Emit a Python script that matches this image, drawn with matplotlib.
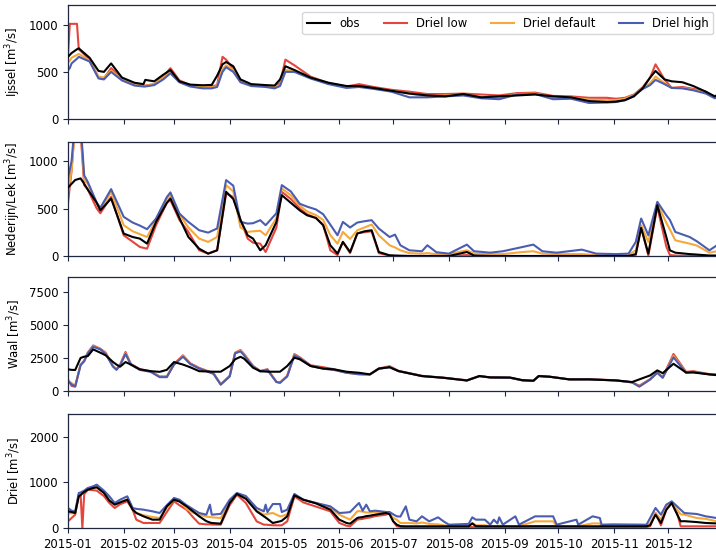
import numpy as np
import matplotlib
matplotlib.use("Agg")
import matplotlib.pyplot as plt

# ---------------- data (day offset from 2015-01-01) ----------------
ij_days = [0, 1, 2, 5, 6, 12, 17, 20, 24, 30, 37, 42, 43, 48, 53, 57, 62, 68, 75, 80, 83, 86, 88, 92, 96, 102,
           110, 115, 118, 121, 126, 135, 145, 155, 162, 170, 180, 190, 200, 210, 220, 230, 240, 250, 260,
           270, 280, 290, 300, 305, 310, 315, 320, 324, 327, 332, 336, 342, 348, 355, 360, 364]
ij_obs = [660, 680, 700, 740, 750, 650, 510, 500, 590, 440, 385, 370, 415, 400, 470, 520, 400, 365, 358, 362, 460, 580,
          605, 560, 420, 370, 360, 355, 420, 560, 520, 440, 385, 350, 350, 330, 300, 270, 250, 240, 265, 230,
          240, 250, 260, 240, 230, 190, 180, 185, 200, 240, 330, 440, 510, 420, 400, 390, 350, 290, 240, 290]
ij_low = [680, 1010, 1010, 1010, 740, 630, 440, 430, 540, 430, 370, 355, 355, 370, 450, 540, 410, 360, 350, 345, 360, 660,
          630, 530, 400, 360, 350, 345, 380, 630, 570, 450, 380, 345, 370, 340, 310, 290, 265, 265, 270, 260,
          250, 275, 280, 245, 240, 225, 225, 215, 225, 260, 340, 440, 580, 420, 330, 340, 320, 290, 230, 290]
ij_def = [600, 620, 650, 680, 690, 620, 450, 440, 515, 420, 365, 350, 350, 370, 440, 500, 400, 355, 340, 335, 350, 530,
          570, 520, 400, 355, 350, 340, 360, 520, 510, 440, 380, 340, 345, 325, 300, 270, 240, 250, 255, 240,
          225, 265, 270, 230, 230, 205, 200, 200, 215, 255, 330, 380, 450, 380, 330, 330, 310, 280, 230, 285]
ij_high = [520, 540, 590, 640, 660, 610, 430, 420, 500, 410, 355, 345, 345, 360, 420, 485, 390, 345, 325, 325, 340, 500,
           550, 500, 390, 350, 340, 325, 350, 500, 500, 430, 370, 330, 340, 320, 290, 230, 230, 240, 250, 220,
           210, 260, 265, 210, 215, 170, 175, 180, 200, 250, 320, 360, 415, 370, 330, 325, 305, 270, 220, 280]

nl_days = [0, 2, 4, 7, 9, 11, 16, 18, 24, 31, 36, 40, 44, 49, 55, 57, 62, 67, 73, 78, 83, 88, 92, 96, 100,
           103, 107, 110, 116, 119, 124, 129, 133, 138, 142, 146, 150, 153, 157, 161, 165, 169, 173, 179,
           182, 185, 190, 197, 200, 205, 212, 222, 226, 235, 242, 253, 259, 264, 272, 286, 294, 305, 312,
           316, 319, 323, 328, 333, 335, 338, 346, 350, 357, 361, 364]
nl_obs = [720, 760, 800, 817, 760, 700, 560, 480, 605, 236, 200, 183, 130, 359, 560, 605, 400, 200, 77, 25, 60,
          676, 600, 380, 218, 183, 60, 113, 359, 640, 560, 480, 429, 400, 324, 113, 25, 148, 42, 236, 260, 271,
          42, 7, 5, 3, 0, 0, 0, 0, 0, 42, 5, 0, 0, 0, 0, 0, 0, 0, 0, 0, 0, 20, 296, 25, 535, 200, 60, 35, 20,
          15, 5, 5, 5]
nl_low = [560, 900, 1400, 1300, 746, 700, 500, 450, 623, 218, 150, 95, 77, 324, 560, 588, 380, 253, 60, 25,
          60, 658, 620, 380, 183, 140, 130, 42, 300, 676, 600, 500, 440, 400, 330, 60, 10, 150, 30, 240, 250,
          260, 30, 5, 0, 0, 0, 0, 0, 0, 0, 10, 0, 0, 0, 0, 0, 0, 0, 0, 0, 0, 0, 10, 306, 5, 517, 100, 10, 5, 0,
          0, 0, 0, 0]
nl_def = [676, 900, 1400, 1350, 800, 760, 560, 480, 676, 324, 260, 230, 200, 380, 600, 640, 440, 300, 183,
          148, 200, 746, 680, 300, 253, 260, 265, 218, 400, 711, 640, 530, 470, 430, 380, 220, 130, 253, 180,
          270, 300, 331, 218, 113, 90, 60, 30, 25, 30, 20, 20, 60, 25, 20, 20, 42, 50, 25, 20, 20, 10, 5, 10,
          60, 324, 148, 553, 350, 280, 165, 130, 110, 35, 50, 80]
nl_high = [817, 1000, 1450, 1400, 850, 780, 560, 507, 704, 412, 352, 320, 282, 394, 620, 669, 447, 359, 271,
           246, 290, 799, 740, 360, 341, 345, 377, 324, 450, 746, 680, 550, 520, 490, 440, 330, 218, 359, 300,
           352, 366, 377, 289, 200, 225, 113, 60, 50, 113, 40, 25, 120, 50, 35, 50, 95, 120, 50, 35, 67, 25,
           20, 25, 148, 394, 218, 570, 429, 380, 253, 200, 155, 60, 110, 140]

wa_days = [0, 2, 4, 7, 9, 11, 14, 18, 21, 25, 27, 29, 32, 35, 40, 46, 51, 55, 59, 64, 68, 73, 81, 85, 90, 93,
           96, 98, 103, 107, 111, 116, 118, 122, 126, 129, 135, 142, 148, 155, 162, 168, 173, 179, 184, 197,
           209, 222, 229, 235, 246, 253, 259, 262, 268, 279, 290, 305, 314, 318, 324, 328, 331, 337, 344, 348,
           357, 361, 364]
wa_obs = [1640, 1600, 1590, 2500, 2600, 2640, 3150, 2900, 2700, 2200, 2000, 1840, 2190, 2000, 1640, 1500,
          1450, 1600, 2190, 2000, 1800, 1500, 1460, 1460, 1890, 2400, 2590, 2450, 1760, 1500, 1460, 1460,
          1460, 1890, 2520, 2400, 1890, 1700, 1640, 1460, 1380, 1260, 1700, 1800, 1510, 1130, 1000, 800, 1130,
          1030, 1020, 820, 780, 1130, 1080, 880, 880, 800, 680, 880, 1180, 1560, 1350, 2060, 1400, 1400, 1260,
          1200, 1200]
wa_low = [880, 380, 330, 2000, 2300, 2900, 3450, 3200, 2900, 1900, 1650, 2000, 2950, 2050, 1650, 1500, 1100,
          1100, 2050, 2700, 2100, 1750, 1350, 520, 1150, 2900, 3100, 2800, 1900, 1520, 1650, 700, 640, 1150,
          2800, 2550, 1950, 1800, 1650, 1400, 1300, 1260, 1700, 1880, 1520, 1150, 1010, 810, 1140, 1030, 1010,
          810, 770, 1140, 1090, 880, 890, 810, 650, 400, 900, 1400, 1050, 2800, 1450, 1500, 1280, 1250, 1230]
wa_def = [800, 600, 400, 2000, 2250, 2850, 3400, 3150, 2850, 1900, 1650, 1950, 2850, 2000, 1600, 1480, 1080,
          1080, 2000, 2650, 2050, 1700, 1300, 500, 1130, 2850, 3050, 2750, 1880, 1500, 1600, 690, 630, 1130,
          2750, 2520, 1900, 1700, 1600, 1380, 1270, 1250, 1680, 1820, 1500, 1130, 1000, 800, 1130, 1020, 1000,
          800, 760, 1130, 1080, 880, 880, 800, 650, 350, 880, 1380, 1010, 2650, 1400, 1450, 1260, 1230, 1220]
wa_high = [750, 500, 350, 1950, 2250, 2850, 3350, 3150, 2800, 1850, 1600, 1950, 2800, 2000, 1600, 1450, 1050,
           1050, 2000, 2600, 2050, 1700, 1300, 480, 1100, 2850, 3000, 2700, 1850, 1480, 1600, 680, 620, 1100,
           2700, 2500, 1900, 1690, 1600, 1380, 1260, 1250, 1680, 1800, 1500, 1130, 1000, 790, 1130, 1020, 1000,
           800, 760, 1130, 1080, 880, 880, 800, 650, 330, 870, 1380, 1000, 2550, 1380, 1450, 1250, 1230, 1210]

dr_days = [0, 2, 4, 6, 7, 8, 9, 11, 14, 16, 20, 23, 26, 29, 33, 36, 38, 42, 47, 51, 55, 59, 62, 66, 70, 73,
           77, 79, 80, 85, 90, 94, 99, 105, 109, 110, 111, 114, 118, 119, 122, 126, 131, 138, 146, 151, 155,
           157, 161, 162, 164, 166, 168, 171, 177, 179, 181, 183, 185, 188, 190, 194, 197, 201, 206, 209, 212,
           223, 225, 227, 232, 235, 237, 239, 240, 242, 249, 251, 260, 266, 270, 272, 283, 284, 292, 296, 297,
           303, 322, 324, 327, 330, 333, 336, 339, 341, 343, 350, 355, 361, 364]
dr_obs = [366, 350, 329, 695, 720, 760, 790, 840, 877, 892, 768, 600, 512, 560, 621, 402, 330, 256, 183, 183,
          475, 621, 580, 475, 350, 256, 150, 120, 110, 95, 548, 746, 640, 366, 256, 230, 200, 110, 146, 160,
          256, 716, 620, 540, 402, 183, 110, 95, 219, 230, 240, 260, 270, 292, 329, 300, 146, 73, 40, 37, 37,
          37, 37, 37, 37, 37, 37, 37, 100, 40, 37, 37, 37, 37, 37, 37, 37, 37, 40, 40, 40, 37, 37, 37, 37, 37,
          37, 37, 37, 60, 292, 110, 400, 548, 300, 146, 150, 130, 110, 100, 100]
dr_low = [146, 219, 292, 731, 731, 0, 740, 840, 830, 819, 700, 548, 439, 520, 585, 400, 183, 110, 110, 110,
          350, 585, 500, 400, 219, 95, 80, 80, 75, 73, 500, 731, 548, 146, 73, 73, 70, 60, 58, 60, 146, 695,
          560, 470, 366, 110, 50, 37, 183, 190, 200, 220, 230, 260, 292, 340, 150, 37, 25, 20, 20, 20, 20, 20,
          20, 20, 20, 20, 20, 20, 20, 20, 20, 20, 20, 20, 20, 20, 20, 20, 20, 20, 20, 20, 20, 20, 20, 20, 20,
          40, 329, 58, 400, 548, 330, 37, 37, 37, 37, 37, 37]
dr_def = [329, 320, 330, 740, 760, 780, 800, 860, 880, 900, 780, 620, 520, 570, 630, 420, 329, 280, 240, 219,
          450, 620, 600, 420, 330, 292, 250, 240, 235, 219, 560, 746, 660, 380, 292, 300, 310, 329, 256, 260,
          300, 730, 610, 550, 439, 292, 220, 183, 366, 370, 360, 340, 340, 345, 329, 300, 220, 183, 110, 110,
          110, 100, 120, 90, 80, 60, 40, 40, 110, 60, 60, 40, 40, 40, 50, 40, 40, 40, 146, 146, 146, 40, 40,
          40, 100, 100, 40, 40, 40, 100, 329, 183, 450, 570, 400, 300, 292, 219, 200, 146, 146]
dr_high = [439, 380, 366, 768, 780, 800, 820, 877, 914, 950, 819, 695, 548, 621, 695, 439, 420, 402, 366, 329,
           500, 658, 621, 500, 402, 329, 292, 512, 292, 310, 621, 768, 700, 439, 366, 512, 350, 526, 526, 350,
           402, 746, 621, 548, 475, 329, 340, 350, 512, 548, 380, 512, 366, 380, 351, 350, 300, 256, 250, 475,
           183, 146, 256, 146, 234, 146, 73, 90, 234, 183, 183, 73, 183, 100, 234, 73, 256, 73, 256, 256, 256,
           73, 183, 73, 256, 219, 73, 80, 73, 219, 439, 292, 512, 585, 475, 400, 329, 307, 256, 219, 219]

series_labels = ["obs", "Driel low", "Driel default", "Driel high"]
panel_labels = ["Ijssel [m$^3$/s]", "Nederijn/Lek [m$^3$/s]", "Waal [m$^3$/s]", "Driel [m$^3$/s]"]
month_ticks = ["2015-%02d" % m for m in range(1, 13)]

# ---------------- plotting ----------------
colors = ["#000000", "#e4463d", "#f5a83c", "#4a5db0"]
spine_col = "#1e2640"

fig = plt.figure(figsize=(7.16, 5.5), dpi=100)
left, width = 68 / 716, (722 - 68) / 716
tops = [5, 142, 277, 414]
h = 114

base = np.datetime64("2015-01-01")
panels = [
    (ij_days, [ij_obs, ij_low, ij_def, ij_high], (0, 1210), [0, 500, 1000]),
    (nl_days, [nl_obs, nl_low, nl_def, nl_high], (0, 1200), [0, 500, 1000]),
    (wa_days, [wa_obs, wa_low, wa_def, wa_high], (0, 8630), [0, 2500, 5000, 7500]),
    (dr_days, [dr_obs, dr_low, dr_def, dr_high], (0, 2500), [0, 1000, 2000]),
]

tick_dates = [np.datetime64(t + "-01") for t in month_ticks]
axes = []
for i, (days, vals, ylim, yt) in enumerate(panels):
    ax = fig.add_axes([left, 1 - (tops[i] + h) / 550, width, h / 550])
    dates = base + np.array(days).astype("timedelta64[D]")
    for j in range(4):
        ax.plot(dates, vals[j], color=colors[j], lw=1.5, label=series_labels[j],
                zorder=3 if j == 0 else 2)
    ax.set_ylim(*ylim)
    ax.set_yticks(yt)
    ax.set_xlim(base, np.datetime64("2015-12-31"))
    ax.set_xticks(tick_dates)
    if i == 3:
        ax.set_xticklabels(month_ticks)
    else:
        ax.set_xticklabels([])
    ax.set_ylabel(panel_labels[i], fontsize=8.4)
    ax.tick_params(labelsize=8.4, color=spine_col, length=3.5, width=0.8)
    for s in ax.spines.values():
        s.set_color(spine_col)
        s.set_linewidth(0.9)
    axes.append(ax)

leg = axes[0].legend(loc="upper right", ncol=4, fontsize=8.4, bbox_to_anchor=(0.992, 0.97),
                     frameon=True, handlelength=2.0, columnspacing=2.0, borderaxespad=0.3)
leg.get_frame().set_edgecolor("#cccccc")
fig.align_ylabels(axes)

fig.savefig("out.png", dpi=100)
